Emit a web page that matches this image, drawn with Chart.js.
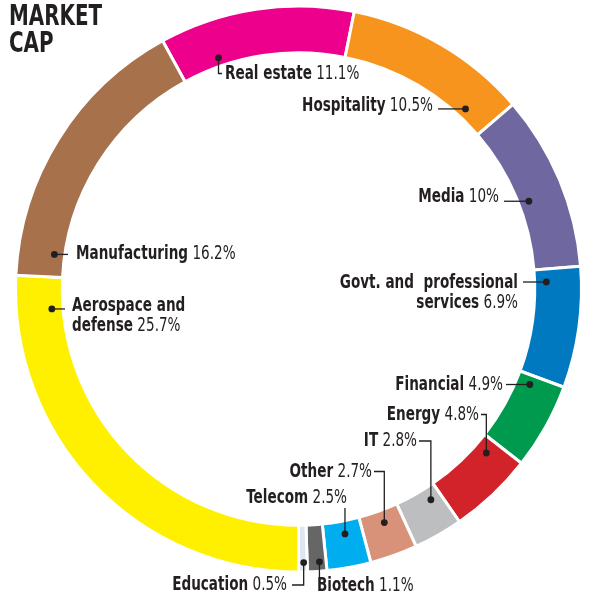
<!DOCTYPE html>
<html>
<head>
<meta charset="utf-8">
<script src="https://cdn.jsdelivr.net/npm/chart.js@4"></script>
<style>
  body { margin: 0; background: #fff; }
  #wrap { position: relative; width: 597px; height: 602px; }
</style>
</head>
<body>
<div id="wrap"><canvas id="cap" width="597" height="602"></canvas></div>
<script>
// data, clockwise from the top
const categories = ['Real estate', 'Hospitality', 'Media', 'Govt. and  professional\nservices', 'Financial',
    'Energy', 'IT', 'Other', 'Telecom', 'Biotech', 'Education', 'Aerospace and\ndefense', 'Manufacturing'];
const shares = [11.1, 10.5, 10, 6.9, 4.9, 4.8, 2.8, 2.7, 2.5, 1.1, 0.5, 25.7, 16.2];
const colors = ['#ec008c', '#f7941d', '#6f67a0', '#0079c1', '#009a4e', '#d2232a', '#bcbec0',
    '#d9927a', '#00aeef', '#666666', '#dde6f1', '#fff000', '#a6714b'];

// label placement (frac = where the dot sits inside the slice, rf = radial position in ring)
const labelLayout = [
    { frac: 0.24, rf: 0.18, tx: 225, ty: 73.5, align: 'left', ex: 222, ey: 73.5 },
    { frac: 0.83, rf: 0.2, tx: 433, ty: 105.5, align: 'right', ex: 438 },
    { frac: 0.55, rf: 0.22, tx: 499, ty: 197, align: 'right', ex: 504 },
    { frac: 0.12, rf: 0.25, tx: 518, ty: 283, align: 'right', ex: 523 },
    { frac: 0.12, rf: 0.3, tx: 503, ty: 384.5, align: 'right', ex: 506 },
    { frac: 0.18, rf: 0.28, tx: 479, ty: 415, align: 'right', ex: 481, ey: 414.5 },
    { frac: 0.25, rf: 0.27, tx: 417, ty: 441, align: 'right', ex: 419, ey: 441 },
    { frac: 0.45, rf: 0.27, tx: 372, ty: 471.5, align: 'right', ex: 374, ey: 471.5 },
    { frac: 0.45, rf: 0.28, tx: 347, ty: 497.5, align: 'right', ey: 508 },
    { frac: 0.35, rf: 0.8, tx: 317, ty: 585.5, align: 'left', ey: 577 },
    { frac: 0.4, rf: 0.8, tx: 287, ty: 584.5, align: 'right', ex: 292, ey: 585 },
    { frac: 0.92, rf: 0.24, tx: 72, ty: 306, align: 'left', ex: 65 },
    { frac: 0.09, rf: 0.22, tx: 76, ty: 254, align: 'left', ex: 68 }
];

const FONT = "'DejaVu Sans Condensed', 'DejaVu Sans', sans-serif";
const INK = '#231f20';
const SX = 0.755; // horizontal squeeze for the condensed look

// put the end of Education at the bottom of the ring
const total = shares.reduce((a, b) => a + b, 0);
const beforeAero = shares.slice(0, 11).reduce((a, b) => a + b, 0);
const rotation = 180 - 360 * beforeAero / total;

function squeezed(ctx, text, x, y, sx) {
    ctx.save();
    ctx.translate(x, y);
    ctx.scale(sx, 1);
    ctx.fillText(text, 0, 0);
    ctx.restore();
}

const labelsPlugin = {
    id: 'ringLabels',
    afterDraw(chart) {
        const ctx = chart.ctx;
        const arcs = chart.getDatasetMeta(0).data;
        ctx.save();

        // title
        ctx.fillStyle = INK;
        ctx.font = 'bold 28px ' + FONT;
        ctx.textAlign = 'left';
        ctx.textBaseline = 'alphabetic';
        squeezed(ctx, 'MARKET', 9, 25, 0.79);
        squeezed(ctx, 'CAP', 9, 52, 0.79);

        arcs.forEach((arc, i) => {
            const lay = labelLayout[i];
            const p = arc.getProps(['x', 'y', 'startAngle', 'endAngle', 'innerRadius', 'outerRadius'], true);
            const a = p.startAngle + lay.frac * (p.endAngle - p.startAngle);
            const r = p.innerRadius + lay.rf * (p.outerRadius - p.innerRadius);
            const dx = p.x + Math.cos(a) * r;
            const dy = p.y + Math.sin(a) * r;

            // leader
            const ey = lay.ey !== undefined ? lay.ey : dy;
            const ex = lay.ex !== undefined ? lay.ex : dx;
            ctx.strokeStyle = INK;
            ctx.lineWidth = 1.3;
            ctx.beginPath();
            ctx.moveTo(dx, dy);
            ctx.lineTo(dx, ey);
            ctx.lineTo(ex, ey);
            ctx.stroke();
            ctx.fillStyle = INK;
            ctx.beginPath();
            ctx.arc(dx, dy, 3.4, 0, Math.PI * 2);
            ctx.fill();

            // text
            const lines = categories[i].split('\n');
            const pct = ' ' + shares[i] + '%';
            ctx.textBaseline = 'middle';
            ctx.textAlign = 'left';
            lines.forEach((ln, j) => {
                const y = lay.ty + j * 19.5;
                const last = j === lines.length - 1;
                ctx.font = 'bold 20px ' + FONT;
                const w1 = ctx.measureText(ln).width * SX;
                ctx.font = '20px ' + FONT;
                const w2 = last ? ctx.measureText(pct).width * SX : 0;
                const x0 = lay.align === 'right' ? lay.tx - w1 - w2 : lay.tx;
                ctx.font = 'bold 20px ' + FONT;
                squeezed(ctx, ln, x0, y, SX);
                if (last) {
                    ctx.font = '20px ' + FONT;
                    squeezed(ctx, pct, x0 + w1, y, SX);
                }
            });
        });
        ctx.restore();
    }
};

new Chart(document.getElementById('cap'), {
    type: 'doughnut',
    data: {
        labels: categories,
        datasets: [{
            data: shares,
            backgroundColor: colors,
            borderColor: '#ffffff',
            borderWidth: 3
        }]
    },
    options: {
        responsive: false,
        animation: false,
        rotation: rotation,
        radius: 283,
        cutout: 240,
        layout: { padding: { top: 0, bottom: 24, left: 0, right: 0 } },
        plugins: {
            legend: { display: false },
            tooltip: { enabled: false }
        }
    },
    plugins: [labelsPlugin]
});
</script>
</body>
</html>
